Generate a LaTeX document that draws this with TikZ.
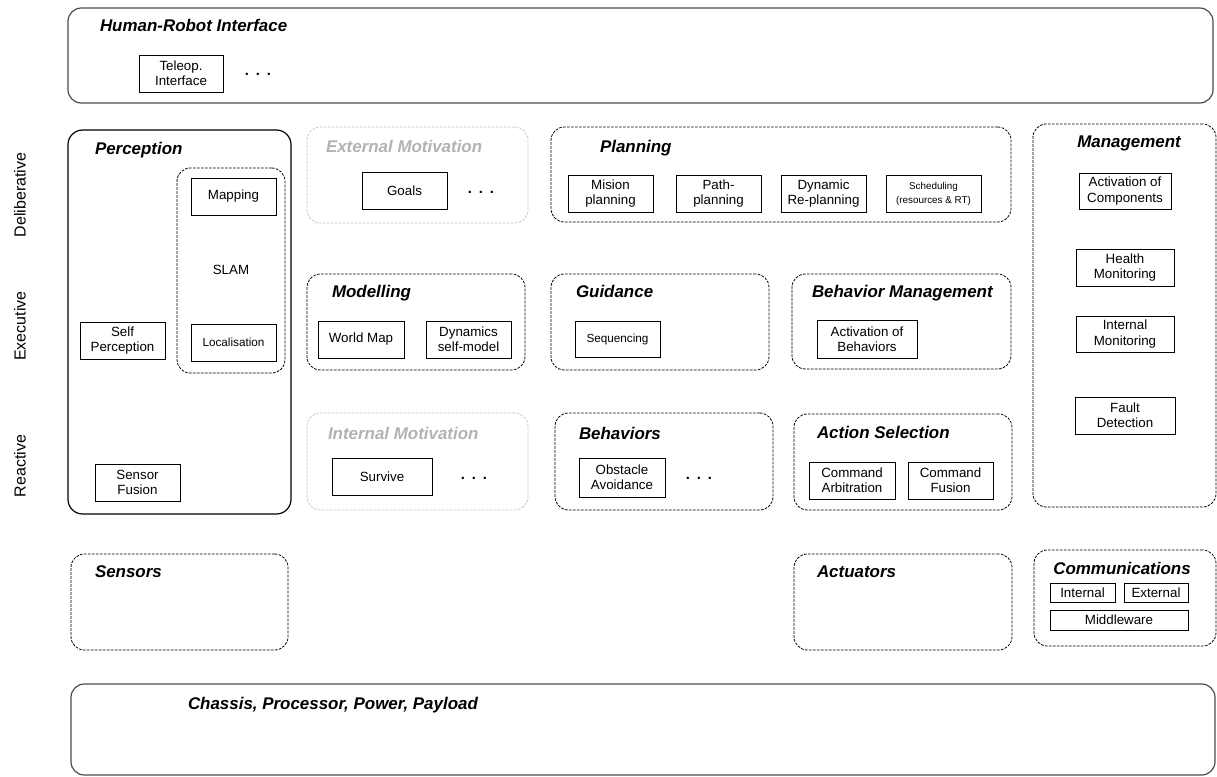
\documentclass[tikz,border=0pt]{standalone}
\usepackage{fontspec}
\setmainfont{Liberation Sans}
% three spaced dots standing for "more components"
\newcommand\tridots{.\hspace{5.2pt}.\hspace{5.2pt}.}
\begin{document}
\begin{tikzpicture}[x=0.75pt,y=-0.75pt,
  every node/.style={inner sep=0pt, outer sep=0pt},
  % a box given by its corners in pixel units: x1, y1, x2, y2
  span/.style n args={4}{
    minimum width={(#3-#1)*0.75pt}, minimum height={(#4-#2)*0.75pt},
    at={({(#1+#3)/2},{(#2+#4)/2})}},
  unit/.style={draw=black, line width=0.6pt, align=center, font=\fontsize{10}{11.5}\selectfont},
  smallunit/.style={unit, font=\fontsize{8.8}{11}\selectfont},
  tinyunit/.style={unit, font=\fontsize{7.4}{10.5}\selectfont},
  group/.style={draw=black, line width=0.6pt, dash pattern=on 2pt off 1pt, rounded corners=10pt},
  faint/.style={draw=black!22, line width=0.6pt, dash pattern=on 2pt off 1pt, rounded corners=10pt},
  frame/.style={draw=black!70, line width=0.9pt, rounded corners=10pt},
  solidgroup/.style={draw=black, line width=0.9pt, rounded corners=11pt},
  title/.style={anchor=base west, font=\fontsize{12.7}{15}\selectfont\bfseries\itshape},
  ctitle/.style={title, anchor=base},
  ghost/.style={title, text=black!30},
  layer/.style={rotate=90, font=\fontsize{12}{14}\selectfont},
  plain/.style={font=\fontsize{10}{11.5}\selectfont},
  dots/.style={anchor=base, font=\fontsize{11}{13}\selectfont\bfseries},
]
\useasboundingbox (0,0) rectangle (1217,776);

% layer labels
\node[layer] (deliberative) at (20,195) {Deliberative};
\node[layer] (executive) at (20,326) {Executive};
\node[layer] (reactive) at (20,466) {Reactive};

% Human-Robot Interface
\node[frame, span={68}{8}{1213}{103}] (hri) {};
\node[title] (hriT) at (100,31) {Human-Robot Interface};
\node[unit, span={139}{55}{223}{92}] (teleop) {Teleop.\\Interface};
\node[dots] (hriDots) at (258,75) {\tridots};

% Perception
\node[solidgroup, span={68}{130}{291}{514}] (perception) {};
\node[title] (perceptionT) at (95,154) {Perception};
\node[group, span={177}{168}{285}{373}] (slam) {};
\node[plain] (slamT) at (231,270) {SLAM};
\node[unit, span={191}{178}{276}{215}] (mapping) {Mapping};
\node[smallunit, span={191}{324}{276}{361}] (localisation) {Localisation};
\node[unit, span={80}{322}{165}{359}] (selfperc) {Self\\Perception};
\node[unit, span={95}{464}{180}{501}] (sensfusion) {Sensor\\Fusion};

% External Motivation
\node[faint, span={307}{127}{528}{223}] (extmot) {};
\node[ghost] (extmotT) at (326,152) {External Motivation};
\node[unit, span={362}{172}{447}{209}] (goals) {Goals};
\node[dots] (goalDots) at (481,193) {\tridots};

% Planning
\node[group, span={551}{127}{1011}{222}] (planning) {};
\node[title] (planningT) at (600,152) {Planning};
\node[unit, span={568}{175}{653}{212}] (mision) {Mision\\planning};
\node[unit, span={676}{175}{761}{212}] (path) {Path-\\planning};
\node[unit, span={781}{175}{866}{212}] (replan) {Dynamic\\Re-planning};
\node[tinyunit, span={886}{175}{981}{212}] (sched) {Scheduling\\(resources \& RT)};

% Management
\node[group, span={1033}{124}{1216}{507}] (management) {};
\node[ctitle] (managementT) at (1129,147) {Management};
\node[unit, span={1079}{173}{1171}{209}] (actcomp) {Activation of\\Components};
\node[unit, span={1076}{249}{1174}{286}] (health) {Health\\Monitoring};
\node[unit, span={1076}{316}{1174}{352}] (intmon) {Internal\\Monitoring};
\node[unit, span={1075}{397}{1175}{434}] (fault) {Fault\\Detection};

% Modelling
\node[group, span={307}{274}{525}{370}] (modelling) {};
\node[title] (modellingT) at (332,297) {Modelling};
\node[unit, span={318}{321}{404}{358}] (worldmap) {World Map};
\node[unit, span={426}{321}{511}{358}] (selfmodel) {Dynamics\\self-model};

% Guidance
\node[group, span={551}{274}{769}{370}] (guidance) {};
\node[title] (guidanceT) at (576,297) {Guidance};
\node[smallunit, span={575}{321}{660}{357}] (sequencing) {Sequencing};

% Behavior Management
\node[group, span={792}{274}{1011}{369}] (behman) {};
\node[title] (behmanT) at (812,297) {Behavior Management};
\node[unit, span={817}{320}{917}{358}] (actbeh) {Activation of\\Behaviors};

% Internal Motivation
\node[faint, span={307}{413}{528}{510}] (intmot) {};
\node[ghost] (intmotT) at (328,439) {Internal Motivation};
\node[unit, span={332}{458}{432}{495}] (survive) {Survive};
\node[dots] (surviveDots) at (474,479) {\tridots};

% Behaviors
\node[group, span={555}{413}{773}{510}] (behaviors) {};
\node[title] (behaviorsT) at (579,439) {Behaviors};
\node[unit, span={579}{458}{665}{497}] (obstacle) {Obstacle\\Avoidance};
\node[dots] (behDots) at (699,479) {\tridots};

% Action Selection
\node[group, span={794}{414}{1012}{510}] (actsel) {};
\node[title] (actselT) at (817,438) {Action Selection};
\node[unit, span={809}{462}{895}{499}] (arbitration) {Command\\Arbitration};
\node[unit, span={908}{462}{993}{499}] (cmdfusion) {Command\\Fusion};

% Sensors and Actuators
\node[group, span={71}{554}{288}{650}] (sensors) {};
\node[title] (sensorsT) at (95,577) {Sensors};
\node[group, span={794}{554}{1012}{650}] (actuators) {};
\node[title] (actuatorsT) at (817,577) {Actuators};

% Communications
\node[group, span={1034}{550}{1216}{646}] (comms) {};
\node[ctitle] (commsT) at (1122,574) {Communications};
\node[unit, span={1050}{583}{1115}{602}] (commInt) {Internal};
\node[unit, span={1124}{583}{1188}{602}] (commExt) {External};
\node[unit, span={1050}{610}{1188}{630}] (middleware) {Middleware};

% Platform
\node[frame, span={71}{684}{1215}{775}] (chassis) {};
\node[title] (chassisT) at (188,709) {Chassis, Processor, Power, Payload};
\end{tikzpicture}
\end{document}
